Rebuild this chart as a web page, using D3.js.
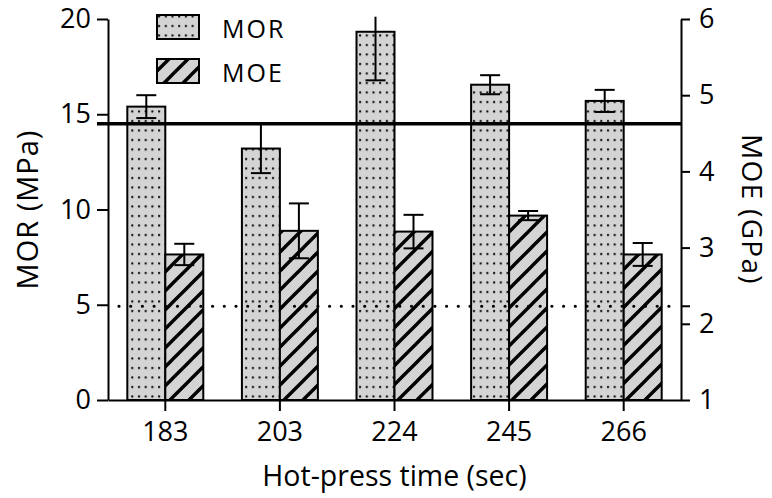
<!DOCTYPE html>
<html>
<head>
<meta charset="utf-8">
<script src="https://cdn.jsdelivr.net/npm/d3@7"></script>
<style>
  html, body { margin: 0; padding: 0; background: #fff; }
  svg { display: block; }
  text { font-family: "Open Sans", Lato, sans-serif; fill: #000; }
</style>
</head>
<body>
<svg id="chart" width="772" height="498"></svg>
<script>
// Hot-press time categories (sec)
const categories = ["183", "203", "224", "245", "266"];
// Modulus of rupture (MPa), mean and error
const morValues = [15.4, 13.2, 19.33, 16.55, 15.7];
const morErrors = [0.6, 1.29, 2.55, 0.5, 0.58];
// Modulus of elasticity (GPa), mean and error
const moeValues = [2.91, 3.22, 3.21, 3.42, 2.91];
const moeErrors = [0.14, 0.36, 0.22, 0.06, 0.15];
// Reference levels: MOR (left axis) and MOE (right axis)
const morReference = 14.5;
const moeReference = 2.23;
// Axis ticks
const morTicks = [0, 5, 10, 15, 20];
const moeTicks = [1, 2, 3, 4, 5, 6];
const seriesNames = ["MOR", "MOE"];

const svg = d3.select("#chart");
const plotLeft = 108, plotRight = 681, plotTop = 19, plotBottom = 400;

const x0 = d3.scaleBand().domain(categories).range([plotLeft, plotRight])
  .paddingInner(0.337).paddingOuter(0.1685);
const x1 = d3.scaleBand().domain(seriesNames).range([0, x0.bandwidth()]);
const yL = d3.scaleLinear().domain([0, 20]).range([plotBottom, plotTop]);
const yR = d3.scaleLinear().domain([1, 6]).range([plotBottom, plotTop]);
const errClip = 20.12; // drawing limit just above the MOR axis top

// Fill patterns
const defs = svg.append("defs");
const dots = defs.append("pattern").attr("id", "dots")
  .attr("patternUnits", "userSpaceOnUse").attr("width", 6.7).attr("height", 9.5)
  .attr("x", 2).attr("y", 3);
dots.append("rect").attr("width", 6.7).attr("height", 9.5).attr("fill", "#d4d4d4");
dots.append("rect").attr("x", 2).attr("y", 3).attr("width", 2).attr("height", 2).attr("fill", "#000");

const s = 19;
const hatch = defs.append("pattern").attr("id", "hatch")
  .attr("patternUnits", "userSpaceOnUse").attr("width", s).attr("height", s);
hatch.append("rect").attr("width", s).attr("height", s).attr("fill", "#d4d4d4");
hatch.append("path")
  .attr("d", `M-2,${s + 2} L${s + 2},-2 M-2,2 L2,-2 M${s - 2},${s + 2} L${s + 2},${s - 2}`)
  .attr("stroke", "#000").attr("stroke-width", 3.4);

// Bars with error bars
const g = svg.append("g");
const fills = { MOR: "url(#dots)", MOE: "url(#hatch)" };
categories.forEach((c, i) => {
  const items = [
    { key: "MOR", v: morValues[i], e: morErrors[i], y: yL, base: 0, clip: errClip },
    { key: "MOE", v: moeValues[i], e: moeErrors[i], y: yR, base: 1, clip: Infinity }
  ];
  items.forEach(d => {
    const bx = x0(c) + x1(d.key);
    const bw = x1.bandwidth();
    g.append("rect")
      .attr("x", bx).attr("y", d.y(d.v))
      .attr("width", bw).attr("height", d.y(d.base) - d.y(d.v))
      .attr("fill", fills[d.key]).attr("stroke", "#000").attr("stroke-width", 2);
    const cx = bx + bw / 2;
    const hi = Math.min(d.v + d.e, d.clip);
    const lo = d.v - d.e;
    const cap = 10;
    g.append("line").attr("x1", cx).attr("x2", cx)
      .attr("y1", d.y(hi)).attr("y2", d.y(lo))
      .attr("stroke", "#000").attr("stroke-width", 2);
    if (hi === d.v + d.e) {
      g.append("line").attr("x1", cx - cap).attr("x2", cx + cap)
        .attr("y1", d.y(hi)).attr("y2", d.y(hi))
        .attr("stroke", "#000").attr("stroke-width", 2);
    }
    g.append("line").attr("x1", cx - cap).attr("x2", cx + cap)
      .attr("y1", d.y(lo)).attr("y2", d.y(lo))
      .attr("stroke", "#000").attr("stroke-width", 2);
  });
});

// Reference lines
svg.append("line")
  .attr("x1", plotLeft - 11).attr("x2", plotRight)
  .attr("y1", yL(morReference)).attr("y2", yL(morReference))
  .attr("stroke", "#000").attr("stroke-width", 3.4);
svg.append("line")
  .attr("x1", plotLeft + 11).attr("x2", plotRight - 6)
  .attr("y1", yR(moeReference)).attr("y2", yR(moeReference))
  .attr("stroke", "#000").attr("stroke-width", 3.2)
  .attr("stroke-linecap", "round").attr("stroke-dasharray", "0,11.7");

// Axes
const tickSize = 27;
function styleAxis(sel) {
  sel.select(".domain").attr("stroke", "#000").attr("stroke-width", 2);
  sel.selectAll(".tick line").attr("stroke", "#000").attr("stroke-width", 2);
  sel.selectAll(".tick text").style("font-size", tickSize + "px")
    .style("font-family", "'Open Sans', Lato, sans-serif");
}
svg.append("g").attr("transform", `translate(${plotLeft},0)`)
  .call(d3.axisLeft(yL).tickValues(morTicks).tickSize(11).tickSizeOuter(0).tickPadding(6))
  .call(styleAxis);
const rAxis = svg.append("g").attr("transform", `translate(${plotRight},0)`)
  .call(d3.axisRight(yR).tickValues(moeTicks).tickFormat(d3.format("d"))
    .tickSize(9).tickSizeOuter(0).tickPadding(9))
  .call(styleAxis);
// tick marking the MOE reference level
rAxis.append("line").attr("x1", 0).attr("x2", 9)
  .attr("y1", yR(moeReference)).attr("y2", yR(moeReference))
  .attr("stroke", "#000").attr("stroke-width", 2);
svg.append("g").attr("transform", `translate(0,${plotBottom})`)
  .call(d3.axisBottom(x0).tickSize(11).tickSizeOuter(0).tickPadding(11))
  .call(styleAxis);

// Axis titles
const midY = (plotTop + plotBottom) / 2;
svg.append("text").attr("transform", `translate(38,${midY}) rotate(-90)`)
  .attr("text-anchor", "middle").style("font-size", "29px").style("letter-spacing", "1px")
  .text("MOR (MPa)");
svg.append("text").attr("transform", `translate(742,${midY}) rotate(90)`)
  .attr("text-anchor", "middle").style("font-size", "28px").style("letter-spacing", "1.3px")
  .text("MOE (GPa)");
svg.append("text").attr("x", (plotLeft + plotRight) / 2).attr("y", 486)
  .attr("text-anchor", "middle").style("font-size", "28.5px").text("Hot-press time (sec)");

// Legend
const legend = svg.append("g");
seriesNames.forEach((name, i) => {
  const ly = 15 + i * 44;
  legend.append("rect").attr("x", 157).attr("y", ly).attr("width", 42).attr("height", 24)
    .attr("fill", fills[name]).attr("stroke", "#000").attr("stroke-width", 2);
  legend.append("text").attr("x", 222).attr("y", ly + 23)
    .style("font-size", "25px").style("letter-spacing", "2px").text(name);
});
</script>
</body>
</html>
